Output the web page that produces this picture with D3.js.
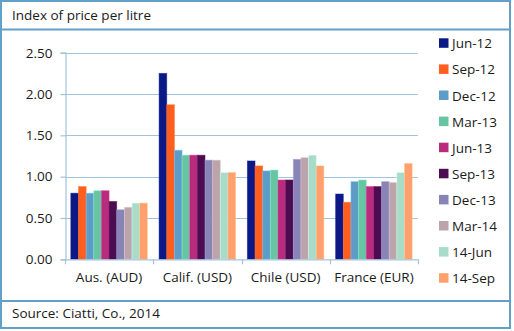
<!DOCTYPE html>
<html><head><meta charset="utf-8">
<script src="https://cdn.jsdelivr.net/npm/d3@7"></script>
<style>body{margin:0;background:#fff}svg{display:block;font-family:"Open Sans","Noto Sans",sans-serif}</style>
</head><body><svg id="c" width="514" height="331"></svg>
<script>
const categories = ["Aus. (AUD)", "Calif. (USD)", "Chile (USD)", "France (EUR)"];
const seriesNames = ["Jun-12","Sep-12","Dec-12","Mar-13","Jun-13","Sep-13","Dec-13","Mar-14","14-Jun","14-Sep"];
const seriesColors = ["#0c1883","#ff5e1f","#5e9cc8","#67c6a1","#b92b7c","#4b0d50","#8884b6","#bca4ab","#a8dcc8","#ffa06e"];
const jun12 = [0.80, 2.25, 1.19, 0.79];
const sep12 = [0.88, 1.87, 1.13, 0.69];
const dec12 = [0.80, 1.32, 1.07, 0.94];
const mar13 = [0.83, 1.26, 1.08, 0.96];
const jun13 = [0.83, 1.26, 0.96, 0.88];
const sep13 = [0.70, 1.26, 0.96, 0.88];
const dec13 = [0.60, 1.20, 1.21, 0.94];
const mar14 = [0.63, 1.20, 1.23, 0.93];
const jun14 = [0.68, 1.05, 1.26, 1.05];
const sep14 = [0.68, 1.05, 1.13, 1.16];
const yTicks = [0, 0.5, 1.0, 1.5, 2.0, 2.5];
const titleText = "Index of price per litre";
const sourceText = "Source: Ciatti, Co., 2014";

const values = [jun12, sep12, dec12, mar13, jun13, sep13, dec13, mar14, jun14, sep14];
const svg = d3.select("#c");
const border = "#62a0c9", grid = "#a3c3dc", txt = "#1a1a1a";

// frame
svg.append("rect").attr("x",1).attr("y",1).attr("width",509).attr("height",327)
  .attr("fill","#fff").attr("stroke",border).attr("stroke-width",2);
svg.append("line").attr("x1",0).attr("x2",511).attr("y1",29.5).attr("y2",29.5).attr("stroke",border).attr("stroke-width",2);
svg.append("line").attr("x1",0).attr("x2",511).attr("y1",301).attr("y2",301).attr("stroke",border).attr("stroke-width",2);

svg.append("text").attr("x",12).attr("y",20).attr("font-size",13.5).attr("fill",txt).text(titleText);
svg.append("text").attr("x",12).attr("y",318).attr("font-size",13.5).attr("fill",txt).text(sourceText);

const x0 = 65, x1 = 418, yTop = 52.7, yBot = 259.3;
const x = d3.scaleBand().domain(categories).range([x0, x1]).paddingInner(0.133).paddingOuter(0.066);
const xs = d3.scaleBand().domain(seriesNames).range([0, x.bandwidth()]);
const y = d3.scaleLinear().domain([0, 2.5]).range([yBot, yTop]);

// gridlines
svg.append("g").selectAll("line").data(yTicks.filter(d=>d>0)).join("line")
  .attr("x1",x0).attr("x2",x1).attr("y1",d=>Math.round(y(d))+0.5).attr("y2",d=>Math.round(y(d))+0.5)
  .attr("stroke",grid).attr("stroke-width",1.2);

// y axis
const yAxis = d3.axisLeft(y).tickValues(yTicks).tickFormat(d3.format(".2f")).tickSize(5).tickPadding(8);
const gy = svg.append("g").attr("transform",`translate(${x0+0.5},0)`).call(yAxis);
gy.select(".domain").attr("stroke",grid).attr("stroke-width",1.2);
gy.selectAll(".tick line").attr("stroke",grid).attr("stroke-width",1.2);
gy.selectAll(".tick text").attr("font-size",13.5).attr("fill",txt).attr("font-family","Open Sans, Noto Sans, sans-serif");

// bars
const gBars = svg.append("g");
seriesNames.forEach((s, i) => {
  gBars.append("g").selectAll("rect").data(categories.map((c, j) => ({c, v: values[i][j]}))).join("rect")
    .attr("x", d => x(d.c) + xs(s))
    .attr("y", d => y(d.v))
    .attr("width", xs.bandwidth())
    .attr("height", d => yBot - y(d.v))
    .attr("fill", seriesColors[i])
    .attr("stroke", d3.color(seriesColors[i]).brighter(0.6))
    .attr("stroke-opacity", 0.6)
    .attr("stroke-width", 0.8);
});

// x axis
const step = (x1 - x0) / categories.length;
const bounds = d3.range(categories.length + 1).map(i => x0 + i * step);
svg.append("line").attr("x1",x0).attr("x2",x1).attr("y1",yBot+0.5).attr("y2",yBot+0.5).attr("stroke",grid).attr("stroke-width",1.2);
svg.append("g").selectAll("line").data(bounds).join("line")
  .attr("x1",d=>Math.round(d)+0.5).attr("x2",d=>Math.round(d)+0.5).attr("y1",yBot).attr("y2",yBot+5)
  .attr("stroke",grid).attr("stroke-width",1.2);
svg.append("g").selectAll("text").data(categories).join("text")
  .attr("x", d => x(d) + x.bandwidth()/2).attr("y", 282).attr("text-anchor","middle")
  .attr("font-size",13.5).attr("fill",txt).text(d=>d);

// legend
const lg = svg.append("g").attr("transform","translate(439,0)");
seriesNames.forEach((s, i) => {
  const cy = 43.3 + i * 26.1;
  lg.append("rect").attr("x",0).attr("y",cy-5).attr("width",9.5).attr("height",9.5).attr("fill",seriesColors[i]);
  lg.append("text").attr("x",13).attr("y",cy+5).attr("font-size",13.5).attr("fill",txt).text(s);
});
</script></body></html>
